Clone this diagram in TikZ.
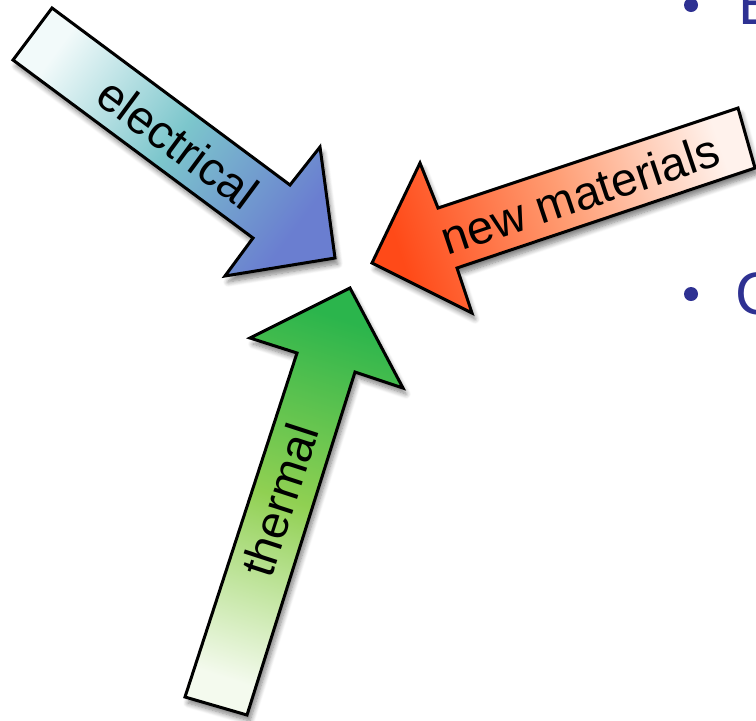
\documentclass[tikz,border=0pt]{standalone}
\usepackage{fontspec}
\setmainfont{Liberation Sans}
\usetikzlibrary{shadows.blur}
\definecolor{elecTail}{HTML}{F2FAFA}
\definecolor{elecMid}{HTML}{7CC6CC}
\definecolor{elecTip}{HTML}{6A7ED0}
\definecolor{matTail}{HTML}{FFF2EC}
\definecolor{matMid}{HTML}{FF9C72}
\definecolor{matTip}{HTML}{FF4A18}
\definecolor{thermTail}{HTML}{F4FAEE}
\definecolor{thermMid}{HTML}{90D052}
\definecolor{thermTip}{HTML}{2BB54C}
\definecolor{bulletblue}{HTML}{2E3192}
\begin{document}
\begin{tikzpicture}[x=1pt, y=-1pt, every node/.style={font=\fontsize{47}{52}\selectfont}]
\tikzset{fatarrow/.style={draw=black, line width=3pt, line join=miter, blur shadow={shadow xshift=3pt, shadow yshift=-6pt, shadow blur steps=8, shadow blur radius=5pt, shadow opacity=50}}}
\tikzset{bullettext/.style={font=\fontsize{60}{66}\selectfont, text=bulletblue, anchor=base west, inner sep=0pt}}
\useasboundingbox (0,0) rectangle (756,721);
\clip (0,0) rectangle (756,721);
% electrical
\draw[fatarrow, top color=elecTail, bottom color=elecTip, middle color=elecMid, shading angle=53.5] (52,8) -- (290,185) -- (320,147) -- (335,258) -- (225,276) -- (253,238) -- (13,60) -- cycle;
\node[rotate=-36.5] (elec) at (178,143) {electrical};
% new materials
\draw[fatarrow, top color=matTip, bottom color=matTail, middle color=matMid, shading angle=108.5] (738,108) -- (438,208) -- (420,163) -- (372,263) -- (472,313) -- (457,268) -- (755,168) -- cycle;
\node[rotate=18.5] (mat) at (580,194) {new materials};
% thermal
\draw[fatarrow, top color=thermTip, bottom color=thermTail, middle color=thermMid, shading angle=-17.8] (185,697) -- (297,353) -- (250,338) -- (350,288) -- (403,388) -- (355,372) -- (247,715) -- cycle;
\node[rotate=72] (therm) at (280,500) {thermal};
% bullets
\fill[bulletblue] (691,5) circle (7);
\node[bullettext] (itemE) at (738,24) {E};
\fill[bulletblue] (691,294) circle (7);
\node[bullettext] (itemC) at (735,314) {C};
\end{tikzpicture}
\end{document}
